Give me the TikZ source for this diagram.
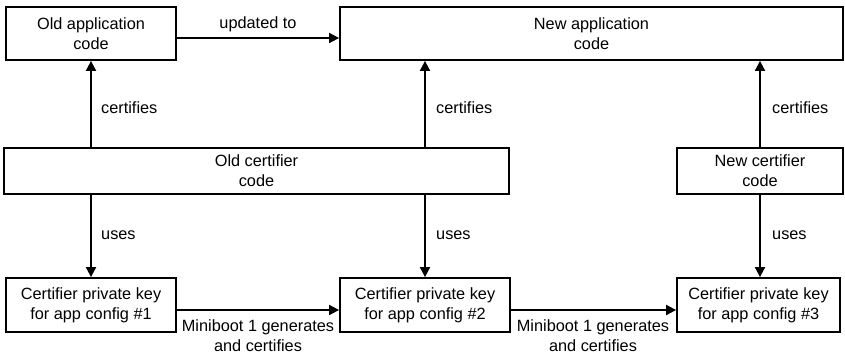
\documentclass[tikz,border=0pt]{standalone}
\usepackage{fontspec}
\setmainfont{Liberation Sans}
\usetikzlibrary{arrows.meta}

\tikzset{
  box/.style={draw, line width=1.8pt, rectangle, inner sep=0pt, align=center,
              font=\fontsize{16.3}{20}\selectfont},
  arr/.style={line width=1.8pt, -{Triangle[length=10pt,width=10pt]}},
  lbl/.style={inner sep=0pt, align=center, font=\fontsize{16.3}{20}\selectfont},
}

\begin{document}
\begin{tikzpicture}[x=1pt,y=-1pt]
  \useasboundingbox (0,0) rectangle (845,355);

  % application code
  \node[box, minimum width=170pt, minimum height=53pt] (oldapp) at (91,33.5) {Old application\\code};
  \node[box, minimum width=503pt, minimum height=53pt] (newapp) at (591.5,33.5) {New application\\code};

  % certifier code
  \node[box, minimum width=505pt, minimum height=46pt] (oldcert) at (256.5,171) {Old certifier\\code};
  \node[box, minimum width=166pt, minimum height=46pt] (newcert) at (760,171) {New certifier\\code};

  % certifier private keys
  \node[box, minimum width=170pt, minimum height=54pt] (key1) at (91,305) {Certifier private key\\for app config \#1};
  \node[box, minimum width=170pt, minimum height=54pt] (key2) at (425,305) {Certifier private key\\for app config \#2};
  \node[box, minimum width=163pt, minimum height=54pt] (key3) at (758.5,305) {Certifier private key\\for app config \#3};

  % update of the application
  \draw[arr] ([yshift=-4.5pt]oldapp.east) -- ([yshift=-4.5pt]oldapp.east -| newapp.west);
  \node[lbl] (lupd) at (258,24) {updated to};

  % certifies
  \draw[arr] (oldcert.north -| oldapp.south) -- (oldapp.south);
  \draw[arr] (oldcert.north -| key2.north) -- (newapp.south -| key2.north);
  \draw[arr] (newcert.north) -- (newapp.south -| newcert.north);
  \node[lbl, anchor=west] (lc1) at (101,108) {certifies};
  \node[lbl, anchor=west] (lc2) at (436,108) {certifies};
  \node[lbl, anchor=west] (lc3) at (772,108) {certifies};

  % uses
  \draw[arr] (oldcert.south -| key1.north) -- (key1.north);
  \draw[arr] (oldcert.south -| key2.north) -- (key2.north);
  \draw[arr] (newcert.south) -- (key3.north -| newcert.south);
  \node[lbl, anchor=west] (lu1) at (101,235) {uses};
  \node[lbl, anchor=west] (lu2) at (436,235) {uses};
  \node[lbl, anchor=west] (lu3) at (772,235) {uses};

  % key generation
  \draw[arr] ([yshift=-5pt]key1.east) -- ([yshift=-5pt]key1.east -| key2.west);
  \draw[arr] ([yshift=-5pt]key2.east) -- ([yshift=-5pt]key2.east -| key3.west);
  \node[lbl] (lg1) at (258,336) {Miniboot 1 generates\\and certifies};
  \node[lbl] (lg2) at (593,336) {Miniboot 1 generates\\and certifies};
\end{tikzpicture}
\end{document}
